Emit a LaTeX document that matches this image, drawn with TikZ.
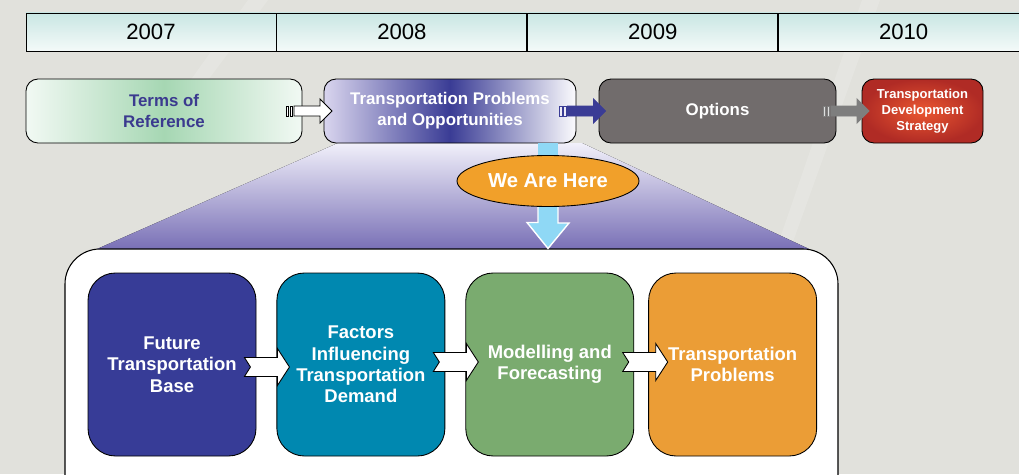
\documentclass[tikz,border=0pt]{standalone}
\usepackage{fontspec}
\setmainfont{Liberation Sans}
\usetikzlibrary{positioning,calc,shapes.geometric}

\definecolor{bggray}{HTML}{E1E1DC}
\definecolor{yrtop}{HTML}{C9E6E3}
\definecolor{yrbot}{HTML}{F4FAF9}
\definecolor{torgreen}{HTML}{A6D7B3}
\definecolor{torink}{HTML}{3B3A8F}
\definecolor{navyblue}{HTML}{3A3C95}
\definecolor{lilac}{HTML}{D9D5EE}
\definecolor{optgray}{HTML}{716C6C}
\definecolor{arrgray}{HTML}{7E7E7E}
\definecolor{strred}{HTML}{B02B25}
\definecolor{strorange}{HTML}{EA5630}
\definecolor{herebg}{HTML}{F1A02A}
\definecolor{sky}{HTML}{8FD8F5}
\definecolor{fanlight}{HTML}{F1F0FA}
\definecolor{fandark}{HTML}{7970B6}
\definecolor{fbase}{HTML}{373C97}
\definecolor{ffact}{HTML}{0088B0}
\definecolor{fmod}{HTML}{7AAB6F}
\definecolor{fprob}{HTML}{EB9D36}

\begin{document}
\begin{tikzpicture}[
  x=0.2mm, y=-0.2mm,
  yr/.style={draw, line width=0.5pt, top color=yrtop, bottom color=yrbot,
             minimum width=50mm, minimum height=7.6mm, inner sep=0pt,
             font=\fontsize{12.6}{14}\selectfont},
  ph/.style={draw, line width=0.5pt, rounded corners=2.4mm, minimum height=12.8mm,
             align=center, inner sep=1pt, text=white,
             font=\fontsize{9.6}{12}\selectfont\bfseries},
  stg/.style={draw, line width=0.5pt, rounded corners=5.5mm, minimum width=33.6mm,
              minimum height=36.6mm, align=center, inner sep=1pt, text=white,
              font=\fontsize{10.5}{12.2}\selectfont\bfseries},
  skyarr/.style={fill=sky, draw=white, line width=0.8pt},
  stripe col/.store in=\stripecol, stripe col=white,
  % striped block arrow of the phase row
  sarr/.pic={
    \draw[pic actions] (-15,-5) -- (11,-5) -- (11,-12) -- (23,0) -- (11,12)
                       -- (11,5) -- (-15,5) -- cycle;
    \foreach \s in {-23,-19}
      \draw[pic actions, fill=\stripecol] (\s,-5) rectangle ++(2.5,10);
  },
  % notched block arrow between the stages
  narr/.pic={
    \draw[pic actions] (-22,-9.5) -- (11,-9.5) -- (11,-18.5) -- (23,0) -- (11,18.5)
                       -- (11,9.5) -- (-22,9.5) -- (-16,0) -- cycle;
  },
]
  \useasboundingbox (0,0) rectangle (1019,474);
  \fill[bggray] (0,0) rectangle (1019,474);
  \fill[white, opacity=0.15] (248,0) -- (268,0) -- (178,120) -- (162,120) -- cycle;
  \fill[white, opacity=0.15] (862,0) -- (880,0) -- (790,250) -- (776,250) -- cycle;

  %=================== year row ===================
  \node[yr] (y07) at (151,32) {2007};
  \node[yr, right=0pt of y07] (y08) {2008};
  \node[yr, right=0pt of y08] (y09) {2009};
  \node[yr, right=0pt of y09] (y10) {2010};

  %=================== zoom fan + frame ===================
  \fill[top color=fanlight, bottom color=fandark]
       (338,143) -- (582,143) -- (809,249) -- (97,249) -- cycle;
  \node[draw, line width=0.6pt, fill=white, rounded corners=7mm,
        minimum width=154.6mm, minimum height=52.4mm] (frame) at (451.5,380) {};

  %=================== phase row ===================
  \node[ph, minimum width=55.2mm, left color=white!85!torgreen, right color=white!85!torgreen,
        middle color=torgreen, text=torink] (tor) at (164,111) {Terms of\\Reference};
  \node[ph, minimum width=50.4mm, left color=lilac, right color=white!90!lilac,
        middle color=navyblue] (tpo) at (450,111) {Transportation Problems\\and Opportunities};
  \node[ph, minimum width=47.4mm, fill=optgray] (opt) at (717.5,111) {Options};
  \node[ph, minimum width=24.2mm, inner color=strorange, outer color=strred,
        font=\fontsize{7.4}{9.2}\selectfont\bfseries] (tds) at (922.5,111)
       {Transportation\\Development\\Strategy};

  \pic[draw=black, fill=white, line width=0.5pt] at ($(tor.east)!0.5!(tpo.west)+(-4,0)$) {sarr};
  \pic[draw=navyblue, fill=navyblue, stripe col=lilac!50, line width=0.5pt]
      at ($(tpo.east)!0.5!(opt.west)+(-5,0)$) {sarr};
  \pic[draw=arrgray, fill=arrgray, stripe col=gray!25, line width=0.5pt]
      at ($(opt.east)!0.5!(tds.west)+(-3,0)$) {sarr};

  %=================== we are here ===================
  \coordinate (hc) at (548,181);
  \fill[sky] ($(tpo.south -| hc)+(-10,0)$) rectangle ($(hc)+(10,0)$);
  \draw[skyarr] ($(hc)+(-10,20)$) -- ++(20,0) -- ++(0,22) -- ++(11,0)
        -- (hc |- frame.north) -- ++(-21,-26) -- ++(11,0) -- cycle;
  \node[ellipse, draw, line width=0.5pt, fill=herebg, minimum width=36.4mm,
        minimum height=10.2mm, inner sep=0pt, text=white,
        font=\fontsize{11.5}{13}\selectfont\bfseries] (here) at (hc) {We Are Here};

  %=================== stages ===================
  \node[stg, fill=fbase] (fut) at (172,364.5) {Future\\Transportation\\Base};
  \node[stg, fill=ffact, right=4mm of fut] (fac) {Factors\\Influencing\\Transportation\\Demand};
  \node[stg, fill=fmod, right=4mm of fac] (mod) {Modelling and\\Forecasting};
  \node[stg, fill=fprob, right=2.8mm of mod] (prob) {Transportation\\Problems};

  \pic[draw, fill=white, line width=0.5pt] at ($(fut.east)!0.5!(fac.west)+(0,2.5)$) {narr};
  \pic[draw, fill=white, line width=0.5pt] at ($(fac.east)!0.5!(mod.west)+(0,-2.5)$) {narr};
  \pic[draw, fill=white, line width=0.5pt] at ($(mod.east)!0.5!(prob.west)+(3.5,-2.5)$) {narr};
\end{tikzpicture}
\end{document}
